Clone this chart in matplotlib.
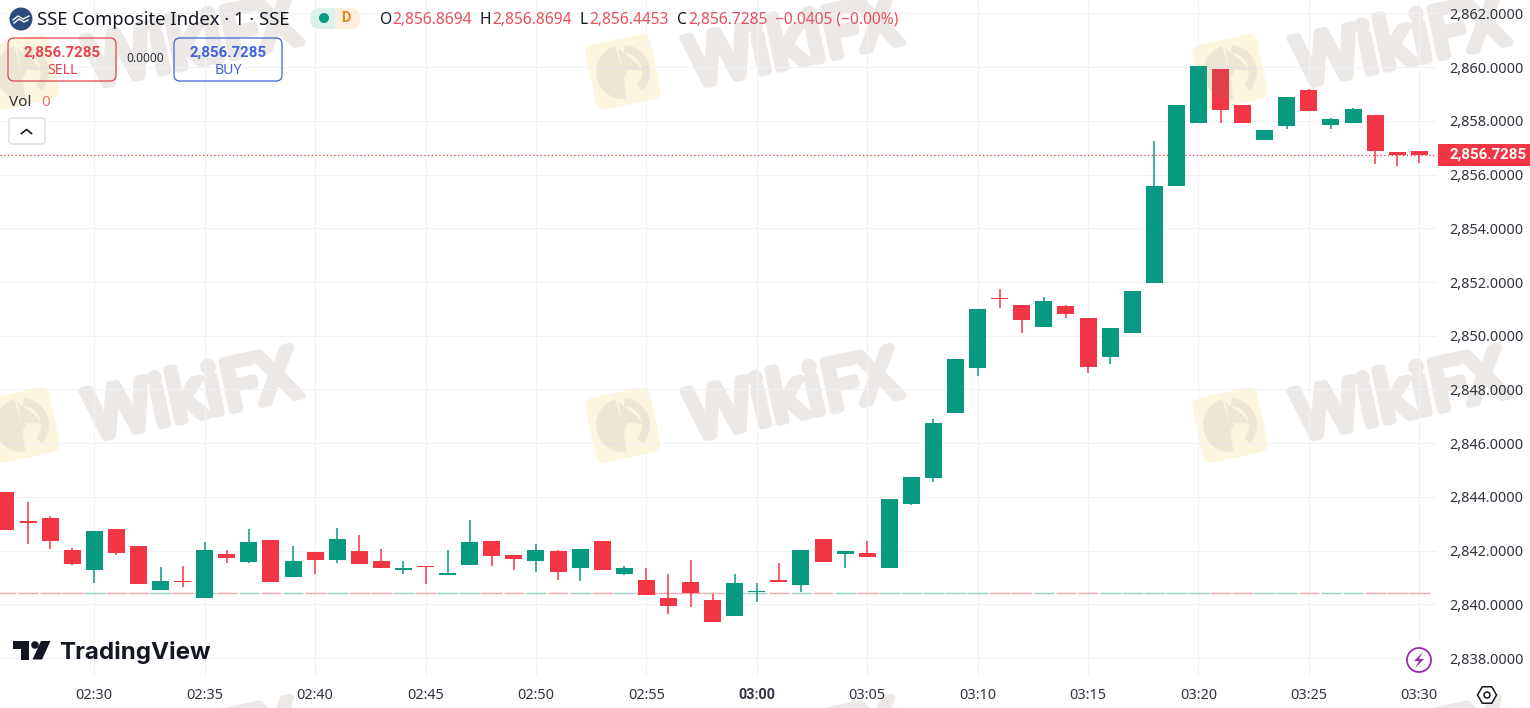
import matplotlib; matplotlib.use('agg'); import matplotlib.pyplot as plt
import matplotlib.patheffects as pe
from matplotlib.patches import Circle, FancyBboxPatch, Polygon, RegularPolygon, Rectangle, Wedge
from matplotlib.transforms import Affine2D

plt.rcParams['font.family'] = ['Noto Sans', 'DejaVu Sans']

# minutes counted from 02:30, one candle per minute
minutes = list(range(-4, 61))
opens = [2844.18, 2843.11, 2843.21, 2842.02, 2841.28, 2842.80, 2842.17, 2840.53, 2840.87, 2840.23, 2841.87, 2841.58, 2842.39,
         2841.02, 2841.95, 2841.65, 2841.98, 2841.61, 2841.28, 2841.43, 2841.09, 2841.46, 2842.36, 2841.84, 2841.61, 2841.98,
         2841.35, 2842.36, 2841.13, 2840.90, 2840.23, 2840.83, 2840.16, 2839.56, 2840.46, 2840.90, 2840.72, 2842.43, 2841.87,
         2841.91, 2841.35, 2843.74, 2844.70, 2847.12, 2848.80, 2851.41, 2851.15, 2850.33, 2851.11, 2850.66, 2849.21, 2850.10,
         2851.97, 2855.58, 2857.92, 2859.93, 2858.59, 2857.29, 2857.81, 2859.15, 2857.85, 2857.92, 2858.22, 2856.84, 2856.8694]
closes = [2842.77, 2843.03, 2842.36, 2841.50, 2842.73, 2841.91, 2840.76, 2840.87, 2840.82, 2842.02, 2841.72, 2842.32, 2840.83,
          2841.61, 2841.65, 2842.43, 2841.50, 2841.35, 2841.35, 2841.39, 2841.17, 2842.32, 2841.80, 2841.69, 2842.02, 2841.20,
          2842.06, 2841.28, 2841.35, 2840.35, 2839.94, 2840.42, 2839.34, 2840.79, 2840.50, 2840.83, 2842.02, 2841.58, 2841.98,
          2841.76, 2843.92, 2844.74, 2846.75, 2849.14, 2851.00, 2851.38, 2850.59, 2851.29, 2850.81, 2848.84, 2850.29, 2851.67,
          2855.58, 2858.59, 2860.05, 2858.41, 2857.92, 2857.66, 2858.89, 2858.37, 2858.07, 2858.45, 2856.88, 2856.73, 2856.7285]
highs = [2844.18, 2843.81, 2843.29, 2842.09, 2842.73, 2842.80, 2842.17, 2841.39, 2841.43, 2842.32, 2842.02, 2842.80, 2842.39,
         2842.17, 2841.95, 2842.84, 2842.58, 2842.06, 2841.61, 2841.43, 2842.02, 2843.14, 2842.36, 2841.84, 2842.25, 2842.02,
         2842.06, 2842.36, 2841.43, 2841.35, 2841.13, 2841.65, 2840.38, 2841.13, 2840.79, 2841.54, 2842.02, 2842.43, 2841.98,
         2842.36, 2843.92, 2844.74, 2846.90, 2849.14, 2851.00, 2851.74, 2851.15, 2851.44, 2851.15, 2850.66, 2850.29, 2851.67,
         2857.25, 2858.59, 2860.05, 2859.93, 2858.59, 2857.66, 2858.89, 2859.19, 2858.11, 2858.48, 2858.22, 2856.84, 2856.8694]
lows = [2842.77, 2842.25, 2842.06, 2841.46, 2840.79, 2841.84, 2840.76, 2840.53, 2840.64, 2840.23, 2841.54, 2841.54, 2840.83,
        2841.02, 2841.13, 2841.54, 2841.50, 2841.35, 2841.13, 2840.76, 2841.09, 2841.46, 2841.43, 2841.28, 2841.20, 2840.90,
        2840.87, 2841.28, 2841.09, 2840.35, 2839.64, 2839.90, 2839.34, 2839.56, 2840.09, 2840.83, 2840.46, 2841.58, 2841.35,
        2841.76, 2841.35, 2843.70, 2844.55, 2847.12, 2848.50, 2851.03, 2850.10, 2850.33, 2850.66, 2848.61, 2848.95, 2850.10,
        2851.97, 2855.58, 2857.92, 2857.92, 2857.92, 2857.29, 2857.70, 2858.37, 2857.70, 2857.92, 2856.40, 2856.32, 2856.4453]

time_ticks = [0, 5, 10, 15, 20, 25, 30, 35, 40, 45, 50, 55, 60]
time_labels = ['02:30', '02:35', '02:40', '02:45', '02:50', '02:55', '03:00', '03:05',
               '03:10', '03:15', '03:20', '03:25', '03:30']
price_ticks = [2838, 2840, 2842, 2844, 2846, 2848, 2850, 2852, 2854, 2856, 2858, 2860, 2862]
volume_level = 2840.43

UP = '#089981'
DOWN = '#f23645'
GRID = '#f0f2f6'
INK = '#131722'
TEXT = '#2f333d'
BOLD_FONT = ['Roboto', 'DejaVu Sans']

# WikiFX marks: logo centres, the text sits to the right of each one
WATERMARKS = [(22, 72), (623, 72), (1230, 72), (22, 425), (623, 425), (1230, 425), (22, 776), (623, 776), (1230, 776)]


def draw_watermark_back(ax, cx, cy):
    rot = Affine2D().rotate_deg_around(cx, cy, -12) + ax.transData
    ax.add_patch(FancyBboxPatch((cx - 33, cy - 33), 66, 66, boxstyle='round,pad=0,rounding_size=9',
                                fc='#fdf6df', ec='none', transform=rot, zorder=1))
    ax.text(cx + 171, cy - 25, 'WikiFX', fontsize=50, color='#ebe8e6',
            rotation=12, rotation_mode='anchor', ha='center', va='center', zorder=2,
            path_effects=[pe.withStroke(linewidth=6, foreground='#ebe8e6', capstyle='round', joinstyle='round')])


def draw_watermark_front(ax, cx, cy):
    # the eagle lies over the candles and tints them a little
    rot = Affine2D().rotate_deg_around(cx, cy, -12) + ax.transData
    grey = '#7c7c86'
    ax.add_patch(Wedge((cx, cy), 27, 95, 265, fc=grey, ec='none', alpha=0.13, transform=rot, zorder=2))
    ax.add_patch(Wedge((cx, cy), 27, -75, 55, width=8, fc=grey, ec='none', alpha=0.13, transform=rot, zorder=2))
    ax.add_patch(Polygon([(cx, cy - 24), (cx + 14, cy - 8), (cx + 20, cy + 3), (cx + 5, cy - 1), (cx, cy + 6)],
                         fc=grey, ec='none', alpha=0.13, transform=rot, zorder=2))


if __name__ == "__main__":
    fig = plt.figure(figsize=(15.3, 7.08), dpi=100)

    back = fig.add_axes([0, 0, 1, 1], zorder=0)
    back.set_xlim(0, 1530)
    back.set_ylim(708, 0)
    back.axis('off')
    for cx, cy in WATERMARKS:
        draw_watermark_back(back, cx, cy)

    ax = fig.add_axes([0, 32 / 708, 1437 / 1530, 676 / 708], zorder=1)
    ax.patch.set_alpha(0)
    ax.set_xlim(-4.27, 60.80)
    ax.set_ylim(2837.33, 2862.50)
    for side in ax.spines.values():
        side.set_visible(False)

    ax.set_xticks(time_ticks)
    ax.set_xticklabels(time_labels, fontsize=10.4, color=TEXT)
    ax.get_xticklabels()[6].set_fontweight('bold')
    ax.get_xticklabels()[6].set_fontfamily(BOLD_FONT)
    ax.set_yticks(price_ticks)
    ax.set_yticklabels([f"{p:,.4f}" for p in price_ticks], fontsize=10.4, color=TEXT, va='center_baseline')
    ax.yaxis.tick_right()
    ax.tick_params(axis='x', length=0, pad=8.5)
    ax.tick_params(axis='y', length=0, pad=9)
    ax.grid(True, color=GRID, linewidth=0.8)
    ax.set_axisbelow(True)

    colors = [UP if c >= o else DOWN for o, c in zip(opens, closes)]
    vol_colors = ['#8fd0c3' if c == UP else '#f5a5ab' for c in colors]

    # volume is about zero here, so only thin dashes are left of the bars
    ax.hlines([volume_level] * len(minutes), [m - 0.47 for m in minutes], [m + 0.47 for m in minutes],
              colors=vol_colors, linewidth=1, zorder=2)
    ax.axhline(closes[-1], color=DOWN, linewidth=0.9, linestyle=(0, (1, 2)), zorder=2)

    ax.vlines(minutes, lows, highs, colors=colors, linewidth=1.1, zorder=3)
    ax.bar(minutes, [abs(c - o) for o, c in zip(opens, closes)], bottom=[min(o, c) for o, c in zip(opens, closes)],
           width=0.77, color=colors, linewidth=0, zorder=4)

    ov = fig.add_axes([0, 0, 1, 1], zorder=10)
    ov.set_xlim(0, 1530)
    ov.set_ylim(708, 0)
    ov.axis('off')
    ov.patch.set_alpha(0)

    for cx, cy in WATERMARKS:
        draw_watermark_front(ov, cx, cy)

    # last price tag
    ov.add_patch(Rectangle((1438, 144), 92, 22, fc=DOWN, ec='none', zorder=5))
    ov.text(1488, 155, f"{closes[-1]:,.4f}", fontsize=10.8, fontweight='bold', family=BOLD_FONT, color='white',
            ha='center', va='center', zorder=6)

    # legend row
    ov.add_patch(Circle((21, 19), 11.5, fc='#2b4a7d', ec='none', zorder=5))
    ov.plot([13, 18, 23, 29], [20, 16, 19, 16], color='white', linewidth=1, zorder=6)
    ov.plot([14, 19, 24, 28], [23, 19, 22, 20], color='white', linewidth=1, zorder=6)
    ov.text(37, 20, 'SSE Composite Index · 1 · SSE', fontsize=13.3, color=INK, va='center', zorder=6)
    ov.add_patch(FancyBboxPatch((310, 8), 25, 21, boxstyle='round,pad=0,rounding_size=10', fc='#dcf1ec', ec='none', zorder=5))
    ov.add_patch(FancyBboxPatch((335, 8), 25, 21, boxstyle='round,pad=0,rounding_size=10', fc='#fdeedd', ec='none', zorder=5))
    ov.add_patch(Rectangle((325, 8), 10, 21, fc='#dcf1ec', ec='none', zorder=5))
    ov.add_patch(Rectangle((335, 8), 10, 21, fc='#fdeedd', ec='none', zorder=5))
    ov.add_patch(Circle((324, 18), 5, fc=UP, ec='none', zorder=6))
    ov.text(346, 18.5, 'D', fontsize=10.5, fontweight='bold', family=BOLD_FONT, color='#ef7f1a', ha='center',
            va='center', zorder=6)

    for x, label, color in [(380, 'O', INK), (392, f"{opens[-1]:,.4f}", '#e8505c'),
                            (480, 'H', INK), (492, f"{highs[-1]:,.4f}", '#e8505c'),
                            (580, 'L', INK), (589, f"{lows[-1]:,.4f}", '#e8505c'),
                            (677, 'C', INK), (688, f"{closes[-1]:,.4f}", '#e8505c'),
                            (775, '−0.0405 (−0.00%)', '#e8505c')]:
        ov.text(x, 19.5, label, fontsize=11.2, color=color, va='center', zorder=6)

    # sell and buy boxes
    for x, edge, word in [(8, '#e5444f', 'SELL'), (174, '#3f62d9', 'BUY')]:
        ov.add_patch(FancyBboxPatch((x, 38), 108, 43, boxstyle='round,pad=0,rounding_size=6', fc='none', ec=edge,
                                    linewidth=0.9, zorder=5))
        ov.text(x + 54, 52.5, '2,856.7285', fontsize=10.8, fontweight='bold', family=BOLD_FONT, color=edge, ha='center',
                va='center', zorder=6)
        ov.text(x + 54, 70.5, word, fontsize=10.2, color=edge, ha='center', va='center', zorder=6)
    ov.text(145, 59, '0.0000', fontsize=8.6, color=TEXT, ha='center', va='center', zorder=6)

    ov.text(9, 102, 'Vol', fontsize=11, color=TEXT, va='center', zorder=6)
    ov.text(41, 102, '0', fontsize=11, color='#e57373', va='center', zorder=6)
    ov.add_patch(FancyBboxPatch((9, 118), 36, 26, boxstyle='round,pad=0,rounding_size=3', fc='white', ec='#d6d8dd',
                                linewidth=0.9, zorder=5))
    ov.plot([21.5, 26.5, 31.5], [133.5, 129.5, 133.5], color=INK, linewidth=1.2, zorder=6)

    # TradingView mark
    ov.add_patch(Polygon([(13, 641), (29, 641), (29, 659.5), (21, 659.5), (21, 649), (13, 649)], fc=INK, ec='none', zorder=6))
    ov.add_patch(Circle((35, 645), 3.8, fc=INK, ec='none', zorder=6))
    ov.add_patch(Polygon([(41, 641), (50.5, 641), (42, 659.5), (32.5, 659.5)], fc=INK, ec='none', zorder=6))
    ov.text(59, 653, 'TradingView', fontsize=17.4, fontweight='bold', family=['Inter', 'DejaVu Sans'], color=INK,
            va='center', zorder=6)

    # bolt icon and settings icon
    ov.add_patch(Circle((1419, 660), 12, fc='white', ec='#9c27b0', linewidth=1.3, zorder=5))
    ov.add_patch(Polygon([(1423, 652), (1414, 661), (1419, 661), (1415, 668), (1424, 659), (1419, 659)],
                         fc='#9c27b0', ec='none', zorder=6))
    ov.add_patch(RegularPolygon((1487, 695), 6, radius=9.5, orientation=0.5236, fc='white', ec=INK, linewidth=1.1, zorder=5))
    ov.add_patch(Circle((1487, 695), 3, fc='white', ec=INK, linewidth=1.1, zorder=6))

    fig.savefig('out.png', dpi=100)
    plt.close()
